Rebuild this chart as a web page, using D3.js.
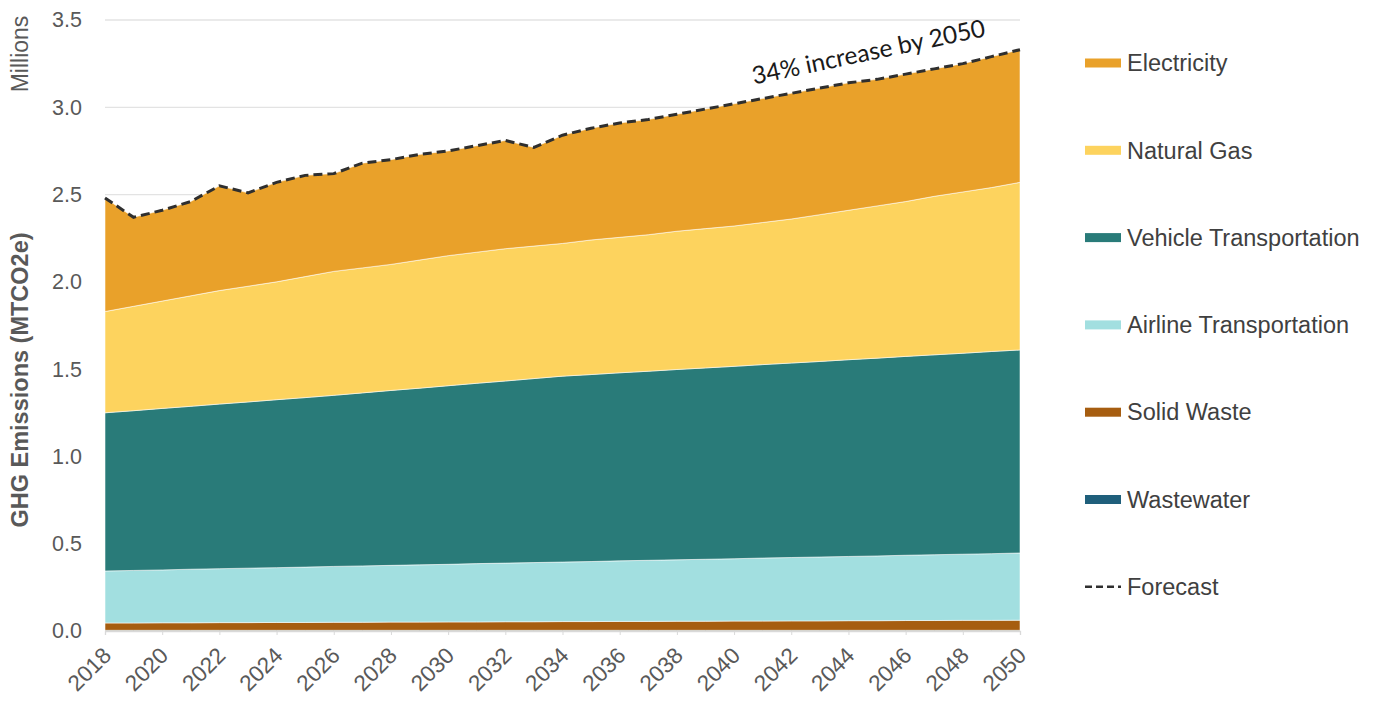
<!DOCTYPE html>
<html>
<head>
<meta charset="utf-8">
<script src="https://cdn.jsdelivr.net/npm/d3@7"></script>
<style>
  html, body { margin: 0; padding: 0; background: #fff; }
  svg text { font-family: "Liberation Sans", Arial, sans-serif; }
</style>
</head>
<body>
<svg class="svg-ghg" width="1383" height="705"></svg>
<script>
const YEARS = [2018, 2019, 2020, 2021, 2022, 2023, 2024, 2025, 2026, 2027, 2028,
  2029, 2030, 2031, 2032, 2033, 2034, 2035, 2036, 2037, 2038, 2039, 2040,
  2041, 2042, 2043, 2044, 2045, 2046, 2047, 2048, 2049, 2050];

// millions of MTCO2e per sector
const WASTEWATER = [0.004, 0.004, 0.004, 0.004, 0.004, 0.004, 0.004, 0.004, 0.004, 0.004, 0.004,
  0.004, 0.004, 0.004, 0.004, 0.004, 0.004, 0.004, 0.004, 0.004, 0.004, 0.004, 0.004,
  0.004, 0.004, 0.004, 0.004, 0.004, 0.004, 0.004, 0.004, 0.004, 0.004];
const SOLID_WASTE = [0.042, 0.042, 0.043, 0.043, 0.044, 0.044, 0.045, 0.045, 0.046, 0.046, 0.047,
  0.047, 0.048, 0.048, 0.049, 0.049, 0.050, 0.050, 0.051, 0.051, 0.052, 0.052, 0.053,
  0.053, 0.054, 0.054, 0.055, 0.055, 0.056, 0.056, 0.057, 0.057, 0.058];
const AIRLINE = [0.298, 0.301, 0.303, 0.307, 0.309, 0.312, 0.314, 0.317, 0.320, 0.323, 0.325,
  0.328, 0.330, 0.334, 0.336, 0.339, 0.341, 0.344, 0.347, 0.350, 0.352, 0.355, 0.357,
  0.361, 0.363, 0.366, 0.368, 0.371, 0.374, 0.377, 0.379, 0.382, 0.385];
const VEHICLE = [0.906, 0.915, 0.925, 0.933, 0.943, 0.952, 0.962, 0.971, 0.980, 0.991, 1.002,
  1.012, 1.023, 1.033, 1.043, 1.054, 1.065, 1.071, 1.077, 1.083, 1.090, 1.096, 1.102,
  1.108, 1.114, 1.120, 1.127, 1.133, 1.139, 1.145, 1.151, 1.158, 1.163];
const NATURAL_GAS = [0.580, 0.598, 0.615, 0.633, 0.650, 0.663, 0.675, 0.693, 0.710, 0.716, 0.722,
  0.734, 0.745, 0.751, 0.758, 0.759, 0.760, 0.771, 0.776, 0.782, 0.792, 0.798, 0.804,
  0.814, 0.825, 0.841, 0.856, 0.872, 0.887, 0.908, 0.924, 0.939, 0.960];
const ELECTRICITY = [0.650, 0.510, 0.520, 0.540, 0.600, 0.535, 0.570, 0.580, 0.560, 0.600, 0.600,
  0.605, 0.600, 0.610, 0.620, 0.565, 0.620, 0.640, 0.655, 0.660, 0.670, 0.685, 0.700,
  0.710, 0.720, 0.725, 0.730, 0.725, 0.730, 0.730, 0.735, 0.750, 0.760];

// stacking order, bottom first
const SERIES = ['Wastewater', 'Solid Waste', 'Airline Transportation',
  'Vehicle Transportation', 'Natural Gas', 'Electricity'];
const SERIES_VALUES = [WASTEWATER, SOLID_WASTE, AIRLINE, VEHICLE, NATURAL_GAS, ELECTRICITY];
const COLORS = ['#1f5f7b', '#a65d10', '#a2dfe0', '#297b79', '#fdd35e', '#e9a12a'];

// legend order, top first
const LEGEND = ['Electricity', 'Natural Gas', 'Vehicle Transportation',
  'Airline Transportation', 'Solid Waste', 'Wastewater', 'Forecast'];

const Y_TICKS = [0, 0.5, 1, 1.5, 2, 2.5, 3, 3.5];
const X_TICKS = [2018, 2020, 2022, 2024, 2026, 2028, 2030, 2032, 2034,
  2036, 2038, 2040, 2042, 2044, 2046, 2048, 2050];

(function () {
  "use strict";

  let svg = d3.select('.svg-ghg'),
    left = 105,
    right = 1020,
    top = 20,
    bottom = 631;

  let rows = YEARS.map(function (yr, i) {
    let row = { year: yr };
    SERIES.forEach(function (s, k) { row[s] = SERIES_VALUES[k][i]; });
    return row;
  });

  let stacked = d3.stack().keys(SERIES)(rows);

  let x = d3.scaleLinear().domain([2018, 2050]).range([left, right]);
  let y = d3.scaleLinear().domain([0, 3.5]).range([bottom, top]);

  /*
   * gridlines
   */
  svg.append('g')
    .selectAll('line')
    .data(Y_TICKS)
    .enter()
    .append('line')
    .attr('x1', left)
    .attr('x2', right)
    .attr('y1', function (d) { return y(d); })
    .attr('y2', function (d) { return y(d); })
    .attr('stroke', '#e3e3e3')
    .attr('stroke-width', 1.3);

  /*
   * stacked areas
   */
  let area = d3.area()
    .x(function (d) { return x(d.data.year); })
    .y0(function (d) { return y(d[0]); })
    .y1(function (d) { return y(d[1]); });

  svg.append('g')
    .selectAll('path')
    .data(stacked)
    .enter()
    .append('path')
    .attr('d', area)
    .attr('fill', function (d, i) { return COLORS[i]; })
    .attr('stroke', '#ffffff')
    .attr('stroke-opacity', 0.55)
    .attr('stroke-width', 1);

  /*
   * forecast line on top of the stack
   */
  let totals = stacked[stacked.length - 1];
  let line = d3.line()
    .x(function (d) { return x(d.data.year); })
    .y(function (d) { return y(d[1]); });

  svg.append('path')
    .datum(totals)
    .attr('d', line)
    .attr('fill', 'none')
    .attr('stroke', '#2f2f2f')
    .attr('stroke-width', 3)
    .attr('stroke-dasharray', '9,5');

  /*
   * axes
   */
  let yAxis = svg.append('g')
    .attr('transform', 'translate(' + left + ',0)')
    .call(d3.axisLeft(y).tickValues(Y_TICKS).tickFormat(d3.format('.1f'))
      .tickSize(0).tickPadding(23));
  yAxis.select('.domain').remove();
  yAxis.selectAll('text')
    .attr('fill', '#595959')
    .style('font-size', '21.5px');

  let xAxis = svg.append('g')
    .attr('transform', 'translate(0,' + bottom + ')')
    .call(d3.axisBottom(x).tickValues(X_TICKS).tickFormat(d3.format('d')).tickSize(4));
  xAxis.select('.domain').attr('stroke', '#d9d9d9').attr('stroke-width', 1.3);
  xAxis.selectAll('.tick line').attr('stroke', '#d9d9d9');
  xAxis.selectAll('text')
    .attr('fill', '#595959')
    .attr('x', 0)
    .attr('y', 0)
    .attr('dy', null)
    .attr('text-anchor', 'end')
    .attr('transform', 'translate(7,26) rotate(-45)')
    .style('font-size', '22.5px');

  svg.append('text')
    .attr('transform', 'translate(28,380) rotate(-90)')
    .attr('text-anchor', 'middle')
    .attr('fill', '#595959')
    .style('font-size', '23.5px')
    .style('font-weight', 'bold')
    .text('GHG Emissions (MTCO2e)');

  svg.append('text')
    .attr('transform', 'translate(28,54) rotate(-90)')
    .attr('text-anchor', 'middle')
    .attr('fill', '#595959')
    .style('font-size', '23px')
    .text('Millions');

  /*
   * annotation along the forecast line
   */
  svg.append('text')
    .attr('transform', 'translate(' + x(2040.7) + ',' + y(3.13) + ') rotate(-11.8)')
    .attr('fill', '#1a1a1a')
    .style('font-family', 'Lato, "Open Sans", sans-serif')
    .style('font-size', '24.5px')
    .text('34% increase by 2050');

  /*
   * legend
   */
  let legend = svg.append('g')
    .selectAll('g')
    .data(LEGEND)
    .enter()
    .append('g')
    .attr('transform', function (d, i) {
      return 'translate(1085,' + (63 + i * 87.3) + ')';
    });

  legend.filter(function (d) { return d !== 'Forecast'; })
    .append('rect')
    .attr('x', 0)
    .attr('y', -4.5)
    .attr('width', 36)
    .attr('height', 9)
    .attr('fill', function (d) { return COLORS[SERIES.indexOf(d)]; });

  legend.filter(function (d) { return d === 'Forecast'; })
    .append('line')
    .attr('x1', 0)
    .attr('x2', 36)
    .attr('stroke', '#2f2f2f')
    .attr('stroke-width', 2.5)
    .attr('stroke-dasharray', '7,4');

  legend.append('text')
    .attr('x', 42)
    .attr('dy', '0.35em')
    .attr('fill', '#404040')
    .style('font-size', '23.5px')
    .text(function (d) { return d; });
}());
</script>
</body>
</html>
